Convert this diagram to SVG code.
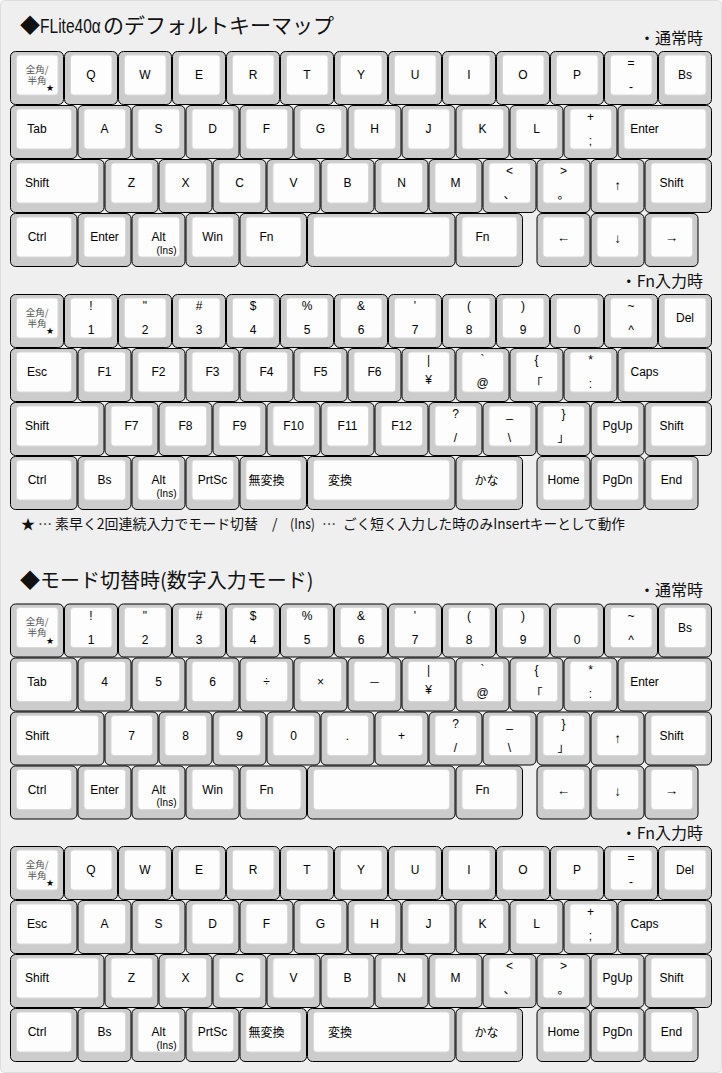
<svg xmlns="http://www.w3.org/2000/svg" xmlns:xlink="http://www.w3.org/1999/xlink" width="722" height="1073" viewBox="0 0 722 1073">
<style>
.o{fill:#cccccc;stroke:#000;stroke-width:1}
.i{fill:#fdfdfd;stroke:#d8d8d8;stroke-width:1}
text{font-family:"Liberation Sans","Noto Sans CJK JP",sans-serif;fill:#000}
.l{font-size:12px;text-anchor:middle}
.ar{font-size:13.5px;text-anchor:middle}
.z{font-size:9.5px;text-anchor:middle;fill:#555;font-family:"Noto Sans CJK JP",sans-serif}
.st{font-size:9px;fill:#000;font-family:"DejaVu Sans",sans-serif}
.s{font-size:10px;text-anchor:middle}
.h{font-size:20px;font-family:"Noto Sans CJK JP",sans-serif;fill:#111}
.hl{font-size:21px;font-family:"Liberation Sans",sans-serif;fill:#111}
.sub{font-size:16px;text-anchor:end;font-family:"Noto Sans CJK JP",sans-serif;fill:#111}
.n{font-size:14px;font-family:"Noto Sans CJK JP",sans-serif;fill:#111}
</style>
<defs>
<g id="u1"><rect class="o" x="0.5" y="0.5" width="53" height="53" rx="5"/><rect class="i" x="6.5" y="4" width="41.5" height="40" rx="3"/></g>
<g id="u125"><rect class="o" x="0.5" y="0.5" width="66.5" height="53" rx="5"/><rect class="i" x="6.5" y="4" width="55" height="40" rx="3"/></g>
<g id="u175"><rect class="o" x="0.5" y="0.5" width="93.5" height="53" rx="5"/><rect class="i" x="6.5" y="4" width="82" height="40" rx="3"/></g>
<g id="u275"><rect class="o" x="0.5" y="0.5" width="147.5" height="53" rx="5"/><rect class="i" x="6.5" y="4" width="136" height="40" rx="3"/></g>
<g id="zen"><use href="#u1"/><text class="z"><tspan x="27" y="21.5">全角/</tspan><tspan x="27" y="32.5">半角</tspan><tspan class="st" x="40" y="40">★</tspan></text></g>
</defs>
<rect x="0.5" y="0.5" width="721" height="1072" rx="4" fill="#efefef" stroke="#dddddd"/>

<g id="titles">
<text class="h" x="20" y="33">◆</text>
<text class="hl" transform="translate(40,33) scale(0.74,1)">FLite40α</text>
<text class="h" x="103" y="33" style="font-size:21px">のデフォルトキーマップ</text>
<text class="sub" x="703" y="43.5">・通常時</text>
<text class="sub" x="703" y="286.5">・Fn入力時</text>
<text class="n" x="21" y="528.5">★<tspan x="38">…</tspan><tspan x="55" textLength="203" lengthAdjust="spacingAndGlyphs">素早く2回連続入力でモード切替</tspan><tspan x="272">/</tspan><tspan x="290" textLength="25" lengthAdjust="spacingAndGlyphs">(Ins)</tspan><tspan x="322">…</tspan><tspan x="343" textLength="282" lengthAdjust="spacingAndGlyphs">ごく短く入力した時のみInsertキーとして動作</tspan></text>
<text class="h" x="20" y="587.5">◆モード切替時(数字入力モード)</text>
<text class="sub" x="703" y="596">・通常時</text>
<text class="sub" x="703" y="838.5">・Fn入力時</text>
</g>

<g id="sec1-normal">
<g id="a-zen" transform="translate(10,51)"><use href="#zen"/></g>
<g id="a-q" transform="translate(64,51)"><use href="#u1"/><text class="l" x="27" y="28">Q</text></g>
<g id="a-w" transform="translate(118,51)"><use href="#u1"/><text class="l" x="27" y="28">W</text></g>
<g id="a-e" transform="translate(172,51)"><use href="#u1"/><text class="l" x="27" y="28">E</text></g>
<g id="a-r" transform="translate(226,51)"><use href="#u1"/><text class="l" x="27" y="28">R</text></g>
<g id="a-t" transform="translate(280,51)"><use href="#u1"/><text class="l" x="27" y="28">T</text></g>
<g id="a-y" transform="translate(334,51)"><use href="#u1"/><text class="l" x="27" y="28">Y</text></g>
<g id="a-u" transform="translate(388,51)"><use href="#u1"/><text class="l" x="27" y="28">U</text></g>
<g id="a-i" transform="translate(442,51)"><use href="#u1"/><text class="l" x="27" y="28">I</text></g>
<g id="a-o" transform="translate(496,51)"><use href="#u1"/><text class="l" x="27" y="28">O</text></g>
<g id="a-p" transform="translate(550,51)"><use href="#u1"/><text class="l" x="27" y="28">P</text></g>
<g id="a-eq" transform="translate(604,51)"><use href="#u1"/><text class="l" x="27" y="16">=</text><text class="l" x="27" y="40">-</text></g>
<g id="a-bs" transform="translate(658,51)"><use href="#u1"/><text class="l" x="27" y="28">Bs</text></g>

<g id="a-tab" transform="translate(10,105)"><use href="#u125"/><text class="l" x="27" y="28">Tab</text></g>
<g id="a-a" transform="translate(77.5,105)"><use href="#u1"/><text class="l" x="27" y="28">A</text></g>
<g id="a-s" transform="translate(131.5,105)"><use href="#u1"/><text class="l" x="27" y="28">S</text></g>
<g id="a-d" transform="translate(185.5,105)"><use href="#u1"/><text class="l" x="27" y="28">D</text></g>
<g id="a-f" transform="translate(239.5,105)"><use href="#u1"/><text class="l" x="27" y="28">F</text></g>
<g id="a-g" transform="translate(293.5,105)"><use href="#u1"/><text class="l" x="27" y="28">G</text></g>
<g id="a-h" transform="translate(347.5,105)"><use href="#u1"/><text class="l" x="27" y="28">H</text></g>
<g id="a-j" transform="translate(401.5,105)"><use href="#u1"/><text class="l" x="27" y="28">J</text></g>
<g id="a-k" transform="translate(455.5,105)"><use href="#u1"/><text class="l" x="27" y="28">K</text></g>
<g id="a-l" transform="translate(509.5,105)"><use href="#u1"/><text class="l" x="27" y="28">L</text></g>
<g id="a-plus" transform="translate(563.5,105)"><use href="#u1"/><text class="l" x="27" y="16">+</text><text class="l" x="27" y="40">;</text></g>
<g id="a-enter" transform="translate(617.5,105)"><use href="#u175"/><text class="l" x="27" y="28">Enter</text></g>

<g id="a-lshift" transform="translate(10,159)"><use href="#u175"/><text class="l" x="27" y="28">Shift</text></g>
<g id="a-z" transform="translate(104.5,159)"><use href="#u1"/><text class="l" x="27" y="28">Z</text></g>
<g id="a-x" transform="translate(158.5,159)"><use href="#u1"/><text class="l" x="27" y="28">X</text></g>
<g id="a-c" transform="translate(212.5,159)"><use href="#u1"/><text class="l" x="27" y="28">C</text></g>
<g id="a-v" transform="translate(266.5,159)"><use href="#u1"/><text class="l" x="27" y="28">V</text></g>
<g id="a-b" transform="translate(320.5,159)"><use href="#u1"/><text class="l" x="27" y="28">B</text></g>
<g id="a-n" transform="translate(374.5,159)"><use href="#u1"/><text class="l" x="27" y="28">N</text></g>
<g id="a-m" transform="translate(428.5,159)"><use href="#u1"/><text class="l" x="27" y="28">M</text></g>
<g id="a-lt" transform="translate(482.5,159)"><use href="#u1"/><text class="l" x="27" y="16">&lt;</text><text class="l" x="27" y="40">、</text></g>
<g id="a-gt" transform="translate(536.5,159)"><use href="#u1"/><text class="l" x="27" y="16">&gt;</text><text class="l" x="27" y="40">。</text></g>
<g id="a-up" transform="translate(590.5,159)"><use href="#u1"/><text class="ar" x="27" y="31">↑</text></g>
<g id="a-rshift" transform="translate(644.5,159)"><use href="#u125"/><text class="l" x="27" y="28">Shift</text></g>

<g id="a-ctrl" transform="translate(10,213)"><use href="#u125"/><text class="l" x="27" y="28">Ctrl</text></g>
<g id="a-ent2" transform="translate(77.5,213)"><use href="#u1"/><text class="l" x="27" y="28">Enter</text></g>
<g id="a-alt" transform="translate(131.5,213)"><use href="#u1"/><text class="l" x="27" y="28">Alt</text><text class="s" x="35" y="40.5">(Ins)</text></g>
<g id="a-win" transform="translate(185.5,213)"><use href="#u1"/><text class="l" x="27" y="28">Win</text></g>
<g id="a-fn1" transform="translate(239.5,213)"><use href="#u125"/><text class="l" x="27" y="28">Fn</text></g>
<g id="a-space" transform="translate(307,213)"><use href="#u275"/></g>
<g id="a-fn2" transform="translate(455.5,213)"><use href="#u125"/><text class="l" x="27" y="28">Fn</text></g>
<g id="a-left" transform="translate(536.5,213)"><use href="#u1"/><text class="ar" x="27" y="29">←</text></g>
<g id="a-down" transform="translate(590.5,213)"><use href="#u1"/><text class="ar" x="27" y="30">↓</text></g>
<g id="a-right" transform="translate(644.5,213)"><use href="#u1"/><text class="ar" x="27" y="29">→</text></g>
</g>

<g id="sec1-fn">
<g id="b-zen" transform="translate(10,294)"><use href="#zen"/></g>
<g id="b-1" transform="translate(64,294)"><use href="#u1"/><text class="l" x="27" y="16">!</text><text class="l" x="27" y="40">1</text></g>
<g id="b-2" transform="translate(118,294)"><use href="#u1"/><text class="l" x="27" y="16">"</text><text class="l" x="27" y="40">2</text></g>
<g id="b-3" transform="translate(172,294)"><use href="#u1"/><text class="l" x="27" y="16">#</text><text class="l" x="27" y="40">3</text></g>
<g id="b-4" transform="translate(226,294)"><use href="#u1"/><text class="l" x="27" y="16">$</text><text class="l" x="27" y="40">4</text></g>
<g id="b-5" transform="translate(280,294)"><use href="#u1"/><text class="l" x="27" y="16">%</text><text class="l" x="27" y="40">5</text></g>
<g id="b-6" transform="translate(334,294)"><use href="#u1"/><text class="l" x="27" y="16">&amp;</text><text class="l" x="27" y="40">6</text></g>
<g id="b-7" transform="translate(388,294)"><use href="#u1"/><text class="l" x="27" y="16">'</text><text class="l" x="27" y="40">7</text></g>
<g id="b-8" transform="translate(442,294)"><use href="#u1"/><text class="l" x="27" y="16">(</text><text class="l" x="27" y="40">8</text></g>
<g id="b-9" transform="translate(496,294)"><use href="#u1"/><text class="l" x="27" y="16">)</text><text class="l" x="27" y="40">9</text></g>
<g id="b-0" transform="translate(550,294)"><use href="#u1"/><text class="l" x="27" y="40">0</text></g>
<g id="b-tilde" transform="translate(604,294)"><use href="#u1"/><text class="l" x="27" y="16">~</text><text class="l" x="27" y="40">^</text></g>
<g id="b-del" transform="translate(658,294)"><use href="#u1"/><text class="l" x="27" y="28">Del</text></g>

<g id="b-esc" transform="translate(10,348)"><use href="#u125"/><text class="l" x="27" y="28">Esc</text></g>
<g id="b-f1" transform="translate(77.5,348)"><use href="#u1"/><text class="l" x="27" y="28">F1</text></g>
<g id="b-f2" transform="translate(131.5,348)"><use href="#u1"/><text class="l" x="27" y="28">F2</text></g>
<g id="b-f3" transform="translate(185.5,348)"><use href="#u1"/><text class="l" x="27" y="28">F3</text></g>
<g id="b-f4" transform="translate(239.5,348)"><use href="#u1"/><text class="l" x="27" y="28">F4</text></g>
<g id="b-f5" transform="translate(293.5,348)"><use href="#u1"/><text class="l" x="27" y="28">F5</text></g>
<g id="b-f6" transform="translate(347.5,348)"><use href="#u1"/><text class="l" x="27" y="28">F6</text></g>
<g id="b-yen" transform="translate(401.5,348)"><use href="#u1"/><text class="l" x="27" y="16">|</text><text class="l" x="27" y="36">¥</text></g>
<g id="b-at" transform="translate(455.5,348)"><use href="#u1"/><text class="l" x="27" y="16">`</text><text class="l" x="27" y="39">@</text></g>
<g id="b-brace" transform="translate(509.5,348)"><use href="#u1"/><text class="l" x="27" y="16">{</text><text class="l" x="27" y="40">「</text></g>
<g id="b-colon" transform="translate(563.5,348)"><use href="#u1"/><text class="l" x="27" y="16">*</text><text class="l" x="27" y="40">:</text></g>
<g id="b-caps" transform="translate(617.5,348)"><use href="#u175"/><text class="l" x="27" y="28">Caps</text></g>

<g id="b-lshift" transform="translate(10,402)"><use href="#u175"/><text class="l" x="27" y="28">Shift</text></g>
<g id="b-f7" transform="translate(104.5,402)"><use href="#u1"/><text class="l" x="27" y="28">F7</text></g>
<g id="b-f8" transform="translate(158.5,402)"><use href="#u1"/><text class="l" x="27" y="28">F8</text></g>
<g id="b-f9" transform="translate(212.5,402)"><use href="#u1"/><text class="l" x="27" y="28">F9</text></g>
<g id="b-f10" transform="translate(266.5,402)"><use href="#u1"/><text class="l" x="27" y="28">F10</text></g>
<g id="b-f11" transform="translate(320.5,402)"><use href="#u1"/><text class="l" x="27" y="28">F11</text></g>
<g id="b-f12" transform="translate(374.5,402)"><use href="#u1"/><text class="l" x="27" y="28">F12</text></g>
<g id="b-slash" transform="translate(428.5,402)"><use href="#u1"/><text class="l" x="27" y="16">?</text><text class="l" x="27" y="40">/</text></g>
<g id="b-bsl" transform="translate(482.5,402)"><use href="#u1"/><text class="l" x="27" y="15">_</text><text class="l" x="27" y="40">\</text></g>
<g id="b-rbrace" transform="translate(536.5,402)"><use href="#u1"/><text class="l" x="27" y="16">}</text><text class="l" x="27" y="40">」</text></g>
<g id="b-pgup" transform="translate(590.5,402)"><use href="#u1"/><text class="l" x="27" y="28">PgUp</text></g>
<g id="b-rshift" transform="translate(644.5,402)"><use href="#u125"/><text class="l" x="27" y="28">Shift</text></g>

<g id="b-ctrl" transform="translate(10,456)"><use href="#u125"/><text class="l" x="27" y="28">Ctrl</text></g>
<g id="b-bs" transform="translate(77.5,456)"><use href="#u1"/><text class="l" x="27" y="28">Bs</text></g>
<g id="b-alt" transform="translate(131.5,456)"><use href="#u1"/><text class="l" x="27" y="28">Alt</text><text class="s" x="35" y="40.5">(Ins)</text></g>
<g id="b-prtsc" transform="translate(185.5,456)"><use href="#u1"/><text class="l" x="27" y="28">PrtSc</text></g>
<g id="b-muhen" transform="translate(239.5,456)"><use href="#u125"/><text class="l" x="27" y="28.5">無変換</text></g>
<g id="b-henkan" transform="translate(307,456)"><use href="#u275"/><text class="l" x="33" y="28.5">変換</text></g>
<g id="b-kana" transform="translate(455.5,456)"><use href="#u125"/><text class="l" x="31" y="28.5">かな</text></g>
<g id="b-home" transform="translate(536.5,456)"><use href="#u1"/><text class="l" x="27" y="28">Home</text></g>
<g id="b-pgdn" transform="translate(590.5,456)"><use href="#u1"/><text class="l" x="27" y="28">PgDn</text></g>
<g id="b-end" transform="translate(644.5,456)"><use href="#u1"/><text class="l" x="27" y="28">End</text></g>
</g>

<g id="sec2-normal">
<g id="c-zen" transform="translate(10,603.5)"><use href="#zen"/></g>
<g id="c-1" transform="translate(64,603.5)"><use href="#u1"/><text class="l" x="27" y="16">!</text><text class="l" x="27" y="40">1</text></g>
<g id="c-2" transform="translate(118,603.5)"><use href="#u1"/><text class="l" x="27" y="16">"</text><text class="l" x="27" y="40">2</text></g>
<g id="c-3" transform="translate(172,603.5)"><use href="#u1"/><text class="l" x="27" y="16">#</text><text class="l" x="27" y="40">3</text></g>
<g id="c-4" transform="translate(226,603.5)"><use href="#u1"/><text class="l" x="27" y="16">$</text><text class="l" x="27" y="40">4</text></g>
<g id="c-5" transform="translate(280,603.5)"><use href="#u1"/><text class="l" x="27" y="16">%</text><text class="l" x="27" y="40">5</text></g>
<g id="c-6" transform="translate(334,603.5)"><use href="#u1"/><text class="l" x="27" y="16">&amp;</text><text class="l" x="27" y="40">6</text></g>
<g id="c-7" transform="translate(388,603.5)"><use href="#u1"/><text class="l" x="27" y="16">'</text><text class="l" x="27" y="40">7</text></g>
<g id="c-8" transform="translate(442,603.5)"><use href="#u1"/><text class="l" x="27" y="16">(</text><text class="l" x="27" y="40">8</text></g>
<g id="c-9" transform="translate(496,603.5)"><use href="#u1"/><text class="l" x="27" y="16">)</text><text class="l" x="27" y="40">9</text></g>
<g id="c-0" transform="translate(550,603.5)"><use href="#u1"/><text class="l" x="27" y="40">0</text></g>
<g id="c-tilde" transform="translate(604,603.5)"><use href="#u1"/><text class="l" x="27" y="16">~</text><text class="l" x="27" y="40">^</text></g>
<g id="c-bs" transform="translate(658,603.5)"><use href="#u1"/><text class="l" x="27" y="28">Bs</text></g>

<g id="c-tab" transform="translate(10,657.5)"><use href="#u125"/><text class="l" x="27" y="28">Tab</text></g>
<g id="c-n4" transform="translate(77.5,657.5)"><use href="#u1"/><text class="l" x="27" y="28">4</text></g>
<g id="c-n5" transform="translate(131.5,657.5)"><use href="#u1"/><text class="l" x="27" y="28">5</text></g>
<g id="c-n6" transform="translate(185.5,657.5)"><use href="#u1"/><text class="l" x="27" y="28">6</text></g>
<g id="c-div" transform="translate(239.5,657.5)"><use href="#u1"/><text class="l" x="27" y="28">÷</text></g>
<g id="c-mul" transform="translate(293.5,657.5)"><use href="#u1"/><text class="l" x="27" y="28">×</text></g>
<g id="c-minus" transform="translate(347.5,657.5)"><use href="#u1"/><text class="l" x="27" y="28">─</text></g>
<g id="c-yen" transform="translate(401.5,657.5)"><use href="#u1"/><text class="l" x="27" y="16">|</text><text class="l" x="27" y="36">¥</text></g>
<g id="c-at" transform="translate(455.5,657.5)"><use href="#u1"/><text class="l" x="27" y="16">`</text><text class="l" x="27" y="39">@</text></g>
<g id="c-brace" transform="translate(509.5,657.5)"><use href="#u1"/><text class="l" x="27" y="16">{</text><text class="l" x="27" y="40">「</text></g>
<g id="c-colon" transform="translate(563.5,657.5)"><use href="#u1"/><text class="l" x="27" y="16">*</text><text class="l" x="27" y="40">:</text></g>
<g id="c-enter" transform="translate(617.5,657.5)"><use href="#u175"/><text class="l" x="27" y="28">Enter</text></g>

<g id="c-lshift" transform="translate(10,711.5)"><use href="#u175"/><text class="l" x="27" y="28">Shift</text></g>
<g id="c-n7" transform="translate(104.5,711.5)"><use href="#u1"/><text class="l" x="27" y="28">7</text></g>
<g id="c-n8" transform="translate(158.5,711.5)"><use href="#u1"/><text class="l" x="27" y="28">8</text></g>
<g id="c-n9" transform="translate(212.5,711.5)"><use href="#u1"/><text class="l" x="27" y="28">9</text></g>
<g id="c-n0" transform="translate(266.5,711.5)"><use href="#u1"/><text class="l" x="27" y="28">0</text></g>
<g id="c-dot" transform="translate(320.5,711.5)"><use href="#u1"/><text class="l" x="27" y="28">.</text></g>
<g id="c-plus" transform="translate(374.5,711.5)"><use href="#u1"/><text class="l" x="27" y="28">+</text></g>
<g id="c-slash" transform="translate(428.5,711.5)"><use href="#u1"/><text class="l" x="27" y="16">?</text><text class="l" x="27" y="40">/</text></g>
<g id="c-bsl" transform="translate(482.5,711.5)"><use href="#u1"/><text class="l" x="27" y="15">_</text><text class="l" x="27" y="40">\</text></g>
<g id="c-rbrace" transform="translate(536.5,711.5)"><use href="#u1"/><text class="l" x="27" y="16">}</text><text class="l" x="27" y="40">」</text></g>
<g id="c-up" transform="translate(590.5,711.5)"><use href="#u1"/><text class="ar" x="27" y="31">↑</text></g>
<g id="c-rshift" transform="translate(644.5,711.5)"><use href="#u125"/><text class="l" x="27" y="28">Shift</text></g>

<g id="c-ctrl" transform="translate(10,765.5)"><use href="#u125"/><text class="l" x="27" y="28">Ctrl</text></g>
<g id="c-ent2" transform="translate(77.5,765.5)"><use href="#u1"/><text class="l" x="27" y="28">Enter</text></g>
<g id="c-alt" transform="translate(131.5,765.5)"><use href="#u1"/><text class="l" x="27" y="28">Alt</text><text class="s" x="35" y="40.5">(Ins)</text></g>
<g id="c-win" transform="translate(185.5,765.5)"><use href="#u1"/><text class="l" x="27" y="28">Win</text></g>
<g id="c-fn1" transform="translate(239.5,765.5)"><use href="#u125"/><text class="l" x="27" y="28">Fn</text></g>
<g id="c-space" transform="translate(307,765.5)"><use href="#u275"/></g>
<g id="c-fn2" transform="translate(455.5,765.5)"><use href="#u125"/><text class="l" x="27" y="28">Fn</text></g>
<g id="c-left" transform="translate(536.5,765.5)"><use href="#u1"/><text class="ar" x="27" y="29">←</text></g>
<g id="c-down" transform="translate(590.5,765.5)"><use href="#u1"/><text class="ar" x="27" y="30">↓</text></g>
<g id="c-right" transform="translate(644.5,765.5)"><use href="#u1"/><text class="ar" x="27" y="29">→</text></g>
</g>

<g id="sec2-fn">
<g id="d-zen" transform="translate(10,846)"><use href="#zen"/></g>
<g id="d-q" transform="translate(64,846)"><use href="#u1"/><text class="l" x="27" y="28">Q</text></g>
<g id="d-w" transform="translate(118,846)"><use href="#u1"/><text class="l" x="27" y="28">W</text></g>
<g id="d-e" transform="translate(172,846)"><use href="#u1"/><text class="l" x="27" y="28">E</text></g>
<g id="d-r" transform="translate(226,846)"><use href="#u1"/><text class="l" x="27" y="28">R</text></g>
<g id="d-t" transform="translate(280,846)"><use href="#u1"/><text class="l" x="27" y="28">T</text></g>
<g id="d-y" transform="translate(334,846)"><use href="#u1"/><text class="l" x="27" y="28">Y</text></g>
<g id="d-u" transform="translate(388,846)"><use href="#u1"/><text class="l" x="27" y="28">U</text></g>
<g id="d-i" transform="translate(442,846)"><use href="#u1"/><text class="l" x="27" y="28">I</text></g>
<g id="d-o" transform="translate(496,846)"><use href="#u1"/><text class="l" x="27" y="28">O</text></g>
<g id="d-p" transform="translate(550,846)"><use href="#u1"/><text class="l" x="27" y="28">P</text></g>
<g id="d-eq" transform="translate(604,846)"><use href="#u1"/><text class="l" x="27" y="16">=</text><text class="l" x="27" y="40">-</text></g>
<g id="d-del" transform="translate(658,846)"><use href="#u1"/><text class="l" x="27" y="28">Del</text></g>

<g id="d-esc" transform="translate(10,900)"><use href="#u125"/><text class="l" x="27" y="28">Esc</text></g>
<g id="d-a" transform="translate(77.5,900)"><use href="#u1"/><text class="l" x="27" y="28">A</text></g>
<g id="d-s" transform="translate(131.5,900)"><use href="#u1"/><text class="l" x="27" y="28">S</text></g>
<g id="d-d" transform="translate(185.5,900)"><use href="#u1"/><text class="l" x="27" y="28">D</text></g>
<g id="d-f" transform="translate(239.5,900)"><use href="#u1"/><text class="l" x="27" y="28">F</text></g>
<g id="d-g" transform="translate(293.5,900)"><use href="#u1"/><text class="l" x="27" y="28">G</text></g>
<g id="d-h" transform="translate(347.5,900)"><use href="#u1"/><text class="l" x="27" y="28">H</text></g>
<g id="d-j" transform="translate(401.5,900)"><use href="#u1"/><text class="l" x="27" y="28">J</text></g>
<g id="d-k" transform="translate(455.5,900)"><use href="#u1"/><text class="l" x="27" y="28">K</text></g>
<g id="d-l" transform="translate(509.5,900)"><use href="#u1"/><text class="l" x="27" y="28">L</text></g>
<g id="d-plus" transform="translate(563.5,900)"><use href="#u1"/><text class="l" x="27" y="16">+</text><text class="l" x="27" y="40">;</text></g>
<g id="d-caps" transform="translate(617.5,900)"><use href="#u175"/><text class="l" x="27" y="28">Caps</text></g>

<g id="d-lshift" transform="translate(10,954)"><use href="#u175"/><text class="l" x="27" y="28">Shift</text></g>
<g id="d-z" transform="translate(104.5,954)"><use href="#u1"/><text class="l" x="27" y="28">Z</text></g>
<g id="d-x" transform="translate(158.5,954)"><use href="#u1"/><text class="l" x="27" y="28">X</text></g>
<g id="d-c" transform="translate(212.5,954)"><use href="#u1"/><text class="l" x="27" y="28">C</text></g>
<g id="d-v" transform="translate(266.5,954)"><use href="#u1"/><text class="l" x="27" y="28">V</text></g>
<g id="d-b" transform="translate(320.5,954)"><use href="#u1"/><text class="l" x="27" y="28">B</text></g>
<g id="d-n" transform="translate(374.5,954)"><use href="#u1"/><text class="l" x="27" y="28">N</text></g>
<g id="d-m" transform="translate(428.5,954)"><use href="#u1"/><text class="l" x="27" y="28">M</text></g>
<g id="d-lt" transform="translate(482.5,954)"><use href="#u1"/><text class="l" x="27" y="16">&lt;</text><text class="l" x="27" y="40">、</text></g>
<g id="d-gt" transform="translate(536.5,954)"><use href="#u1"/><text class="l" x="27" y="16">&gt;</text><text class="l" x="27" y="40">。</text></g>
<g id="d-pgup" transform="translate(590.5,954)"><use href="#u1"/><text class="l" x="27" y="28">PgUp</text></g>
<g id="d-rshift" transform="translate(644.5,954)"><use href="#u125"/><text class="l" x="27" y="28">Shift</text></g>

<g id="d-ctrl" transform="translate(10,1008)"><use href="#u125"/><text class="l" x="27" y="28">Ctrl</text></g>
<g id="d-bs" transform="translate(77.5,1008)"><use href="#u1"/><text class="l" x="27" y="28">Bs</text></g>
<g id="d-alt" transform="translate(131.5,1008)"><use href="#u1"/><text class="l" x="27" y="28">Alt</text><text class="s" x="35" y="40.5">(Ins)</text></g>
<g id="d-prtsc" transform="translate(185.5,1008)"><use href="#u1"/><text class="l" x="27" y="28">PrtSc</text></g>
<g id="d-muhen" transform="translate(239.5,1008)"><use href="#u125"/><text class="l" x="27" y="28.5">無変換</text></g>
<g id="d-henkan" transform="translate(307,1008)"><use href="#u275"/><text class="l" x="33" y="28.5">変換</text></g>
<g id="d-kana" transform="translate(455.5,1008)"><use href="#u125"/><text class="l" x="31" y="28.5">かな</text></g>
<g id="d-home" transform="translate(536.5,1008)"><use href="#u1"/><text class="l" x="27" y="28">Home</text></g>
<g id="d-pgdn" transform="translate(590.5,1008)"><use href="#u1"/><text class="l" x="27" y="28">PgDn</text></g>
<g id="d-end" transform="translate(644.5,1008)"><use href="#u1"/><text class="l" x="27" y="28">End</text></g>
</g>
</svg>
